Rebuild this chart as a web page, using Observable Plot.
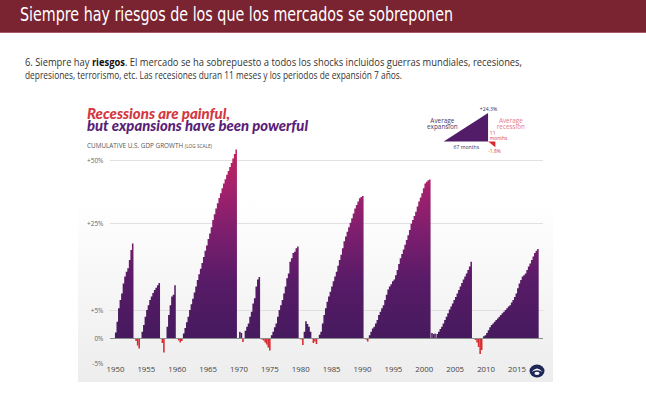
<!DOCTYPE html>
<html><head><meta charset="utf-8">
<script src="https://cdn.jsdelivr.net/npm/d3@7"></script>
<script src="https://cdn.jsdelivr.net/npm/@observablehq/plot@0.6"></script>
<style>
html,body{margin:0;padding:0;background:#fff;width:646px;height:398px;overflow:hidden;}
body{position:relative;font-family:"Open Sans",sans-serif;}
#bar{position:absolute;left:0;top:0;width:646px;height:32px;background:#7a2331;border-bottom:1px solid #a85a66;}
#panel{position:absolute;left:78px;top:95px;width:475px;height:287px;background:linear-gradient(#ffffff 36%,#ededed 100%);}
#chart{position:absolute;left:0;top:0;}
#legend{position:absolute;left:342px;top:3px;}
#texts{position:absolute;left:0;top:0;pointer-events:none;}
#logo{position:absolute;left:529px;top:364px;}
</style></head>
<body>
<div id="bar"></div>
<div id="panel"><div id="chart"></div><div id="legend"></div></div>
<svg id="texts" width="646" height="398">
  <text x="20" y="20.7" font-family="'Liberation Sans Narrow','DejaVu Sans Condensed',sans-serif" font-size="19" fill="#ffffff" textLength="433" lengthAdjust="spacingAndGlyphs">Siempre hay riesgos de los que los mercados se sobreponen</text>
  <text x="25" y="66.3" font-family="'Open Sans',sans-serif" font-size="10.5" fill="#333" textLength="497" lengthAdjust="spacingAndGlyphs">6. Siempre hay <tspan font-weight="bold" fill="#111">riesgos</tspan>. El mercado se ha sobrepuesto a todos los shocks incluidos guerras mundiales, recesiones,</text>
  <text x="25" y="79.3" font-family="'Open Sans',sans-serif" font-size="10.5" fill="#333" textLength="377" lengthAdjust="spacingAndGlyphs">depresiones, terrorismo, etc. Las recesiones duran 11 meses y los periodos de expansión 7 años.</text>
  <text x="87" y="119" font-family="Lato,sans-serif" font-weight="900" font-style="italic" font-size="14.8" fill="#d3393f" textLength="143" lengthAdjust="spacingAndGlyphs">Recessions are painful,</text>
  <text x="87" y="130.7" font-family="Lato,sans-serif" font-weight="900" font-style="italic" font-size="14.8" fill="#5b1f78" textLength="221" lengthAdjust="spacingAndGlyphs">but expansions have been powerful</text>
  <text x="87" y="147.5" font-family="'Open Sans',sans-serif" font-size="6.2" fill="#555" textLength="125" lengthAdjust="spacingAndGlyphs">CUMULATIVE U.S. GDP GROWTH <tspan font-size="4.6">(LOG SCALE)</tspan></text>
</svg>
<svg id="logo" width="16" height="14" viewBox="0 0 16 14">
  <ellipse cx="8" cy="7" rx="7.5" ry="6.5" fill="#1d2657"/>
  <path d="M2.5 8 Q8 1 13.5 8 Q8 4.5 2.5 8Z" fill="#fff"/>
  <ellipse cx="8" cy="9.3" rx="2.6" ry="1.6" fill="#fff"/>
</svg>
<script>
// ---- axis ticks ----
const xTickYears = [1950,1955,1960,1965,1970,1975,1980,1985,1990,1995,2000,2005,2010,2015];
const yTickValues = [50,25,5,0,-5];
const yTickLabels = ["+50%","+25%","+5%","0%","-5%"];
const gridValues = [50,25,5];
// the chart's compressed ("log") vertical axis: break values and their relative heights
const yBreakValues = [-5,0,5,25,50];
const yBreakHeights = [-25,0,28,115,178];

// ---- expansions: start (decimal year) + quarterly cumulative growth (%) ----
const expansionStarts = [1950.0,1954.3,1958.35,1961.0,1971.0,1975.24,1980.55,1983.0,1991.1,2002.05,2009.6];
const exp1950 = [1.0,2.9,5.4,7.3,8.8,11.1,12.7,13.8,14.6,16.5,18.8,20.3];
const exp1954 = [1.1,2.3,3.8,5.0,6.1,7.3,8.1,8.9,9.6,10.1,10.7,11.2];
const exp1958 = [2.0,4.1,6.1,8.1,8.5,10.7];
const exp1961 = [0.8,1.8,2.8,3.8,5.0,6.3,7.6,9.0,10.4,11.9,13.2,14.5,15.8,17.2,18.6,19.8,21.3,22.6,24.0,26.2,28.5,30.8,32.8,34.9,36.8,38.8,40.7,42.4,44.1,45.6,47.2,48.8,50.6,52.4,54.2];
const exp1971 = [1.3,2.0,2.6,3.8,4.7,6.5,7.7,10.4,12.0,12.6];
const exp1975 = [0.5,1.1,1.9,2.6,3.8,5.0,6.1,7.3,8.8,10.4,12.3,13.4,16.1,16.9,18.1,18.4,19.2,19.6];
const exp1980 = [1.1,3.0,2.5,2.0,1.1];
const exp1983 = [0.6,1.1,2.6,4.1,5.4,6.9,8.1,9.2,10.4,11.6,12.7,13.8,15.2,16.5,17.7,19.2,20.8,21.9,23.0,24.0,25.1,26.9,28.8,30.8,32.1,33.5,34.8,35.3,35.7];
const exp1991 = [0.5,1.1,1.7,2.0,2.6,3.2,4.1,4.7,5.4,6.1,7.3,8.5,9.7,10.4,10.9,11.6,12.0,13.0,14.2,15.6,16.9,17.9,18.9,20.0,21.1,22.2,23.4,24.8,26.2,27.8,29.5,31.5,33.5,35.1,36.8,38.8,40.7,41.4,42.0,42.3];
const exp2002 = [0.7,1.1,1.6,2.0,2.6,3.2,3.8,4.4,5.1,5.8,6.5,7.3,8.0,8.8,9.6,10.4,11.2,12.0,12.7,13.4,14.2,15.0,16.1];
const exp2009 = [0.3,0.5,0.9,1.4,1.9,2.3,2.6,2.9,3.2,3.5,3.8,4.1,4.4,4.7,5.0,5.4,5.8,6.1,6.7,7.3,8.0,8.8,10.0,11.1,11.9,12.7,13.0,13.4,14.2,15.0,15.7,16.5,17.3,18.1,18.6,19.0];
const expansionValues = [exp1950,exp1954,exp1958,exp1961,exp1971,exp1975,exp1980,exp1983,exp1991,exp2002,exp2009];

// ---- recessions: start (decimal year) + quarterly cumulative change (%) ----
const recessionStarts = [1953.3,1957.55,1960.2,1970.1,1973.7,1980.05,1982.0,1990.55,2001.2,2008.0];
const rec1953 = [-0.6,-1.5,-2.1];
const rec1957 = [-1.0,-2.9];
const rec1960 = [-0.5,-0.9,-0.6];
const rec1970 = [1.1,0.9,-0.8];
const rec1973 = [-0.3,-0.5,-0.9,-1.3,-1.9,-2.5];
const rec1980 = [-0.3,-1.4];
const rec1982 = [-1.0,-0.7,-1.2];
const rec1990 = [-0.3,-0.7];
const rec2001 = [0.9,0.7,0.8];
const rec2008 = [-0.2,-0.4,-0.9,-1.8,-3.2,-2.4];
const recessionValues = [rec1953,rec1957,rec1960,rec1970,rec1973,rec1980,rec1982,rec1990,rec2001,rec2008];

// ---- legend (average cycle) ----
const avgExpansionMonths = 67, avgExpansionGrowth = 24.3;
const avgRecessionMonths = 11, avgRecessionChange = -1.8;
const legendTexts = ["Average\nexpansion","+24.3%","67 months","Average\nrecession","11\nmonths","-1.8%"];

// ---- build rows ----
const yDisp = d3.scaleLinear().domain(yBreakValues).range(yBreakHeights);
const Q = 0.25;
const expRows = [];
expansionValues.forEach((vals, s) => {
  const st = expansionStarts[s];
  vals.forEach((v, i) => expRows.push({seg: s, x: st + i*Q, v}));
  expRows.push({seg: s, x: st + vals.length*Q, v: vals[vals.length-1]});
});
const recRows = [];
recessionValues.forEach((vals, s) => {
  const st = recessionStarts[s];
  vals.forEach((v, i) => recRows.push({x1: st + i*Q, x2: st + (i+1)*Q, v}));
});

const font = "'Open Sans', sans-serif";
const chart = Plot.plot({
  width: 475, height: 287,
  marginLeft: 32, marginRight: 10, marginTop: 0, marginBottom: 18,
  x: {domain: [1949.2, 2019.3], axis: null},
  y: {domain: [yDisp(-5), yDisp(50)], range: [268, 65], axis: null},
  style: {background: "transparent", fontFamily: font, color: "#555", overflow: "visible"},
  marks: [
    Plot.ruleY(gridValues, {y: d => yDisp(d), stroke: "#dedede", strokeWidth: 0.9}),
    Plot.areaY(expRows, {x: "x", y1: 0, y2: d => yDisp(d.v), z: "seg", curve: "step-after", fill: "url(#expGrad)"}),
    Plot.rect(recRows, {x1: "x1", x2: "x2", y1: 0, y2: d => yDisp(d.v), fill: d => d.v < 0 ? "#d7282f" : "#4b1a5f"}),
    Plot.ruleY([0], {y: d => yDisp(d), stroke: "#8c8c8c", strokeWidth: 1}),
    Plot.text(yTickValues, {y: d => yDisp(d), text: (d, i) => yTickLabels[i], frameAnchor: "left", textAnchor: "end", dx: -7, fontSize: 6.5, fill: "#666"}),
    Plot.text(xTickYears, {x: d => d, text: d => String(d), frameAnchor: "bottom", dy: 7, fontSize: 7.8, fill: "#444"})
  ]
});
document.getElementById("chart").appendChild(chart);

// gradient tied to the y scale (dark purple at 0%, magenta at the top)
const ys = chart.scale("y");
const gradStops = [[0,"#461a5e"],[0.3,"#581b67"],[0.55,"#7c1e6e"],[0.8,"#a5216c"],[1,"#c2225f"]];
const defs = d3.select(chart).insert("defs", ":first-child");
const grad = defs.append("linearGradient").attr("id","expGrad").attr("gradientUnits","userSpaceOnUse")
  .attr("x1",0).attr("x2",0).attr("y1",ys.apply(yDisp(0))).attr("y2",ys.apply(yDisp(55)));
gradStops.forEach(([o,c]) => grad.append("stop").attr("offset",o).attr("stop-color",c));

// legend plot
const legDisp = d3.scaleLinear().domain([avgRecessionChange, 0, avgExpansionGrowth]).range([-6.5, 0, 32]);
const legExp = [{m: 0, v: 0}, {m: avgExpansionMonths, v: avgExpansionGrowth}];
const legRec = [{m: avgExpansionMonths, v: 0}, {m: avgExpansionMonths + avgRecessionMonths, v: avgRecessionChange}];
const legX = [0, avgExpansionMonths, avgExpansionMonths/2, avgExpansionMonths + avgRecessionMonths, avgExpansionMonths, avgExpansionMonths + avgRecessionMonths];
const legY = [15.5, avgExpansionGrowth, 0, 15.5, 0, avgRecessionChange];
const legFill = ["#4a3a66","#3d2a55","#3d2a55","#e87a8a","#d8404a","#d8404a"];
const legDx = [-2, 0, 0, 17, 1.5, -1.5];
const legDy = [0, -5, 6, 0, -7, 4];
const legSize = [7.2, 5.8, 5.8, 7.2, 5.5, 5.5];
const legAnchor = ["middle","middle","middle","middle","start","middle"];
const legend = Plot.plot({
  width: 150, height: 62, margin: 0,
  x: {domain: [0, 78], range: [26.7, 85], axis: null},
  y: {domain: [-6.5, 32], range: [55.5, 17], axis: null},
  style: {background: "transparent", fontFamily: font, overflow: "visible"},
  marks: [
    Plot.areaY(legExp, {x: "m", y1: 0, y2: d => legDisp(d.v), fill: "#521c68"}),
    Plot.areaY(legRec, {x: "m", y1: 0, y2: d => legDisp(d.v), fill: "#d7282f"}),
    ...legendTexts.map((t, i) => Plot.text([t], {x: () => legX[i], y: () => legDisp(legY[i]), text: d => d, dx: legDx[i], dy: legDy[i], fill: legFill[i], fontSize: legSize[i], textAnchor: legAnchor[i], lineHeight: 1.05}))
  ]
});
document.getElementById("legend").appendChild(legend);
</script>
</body></html>
